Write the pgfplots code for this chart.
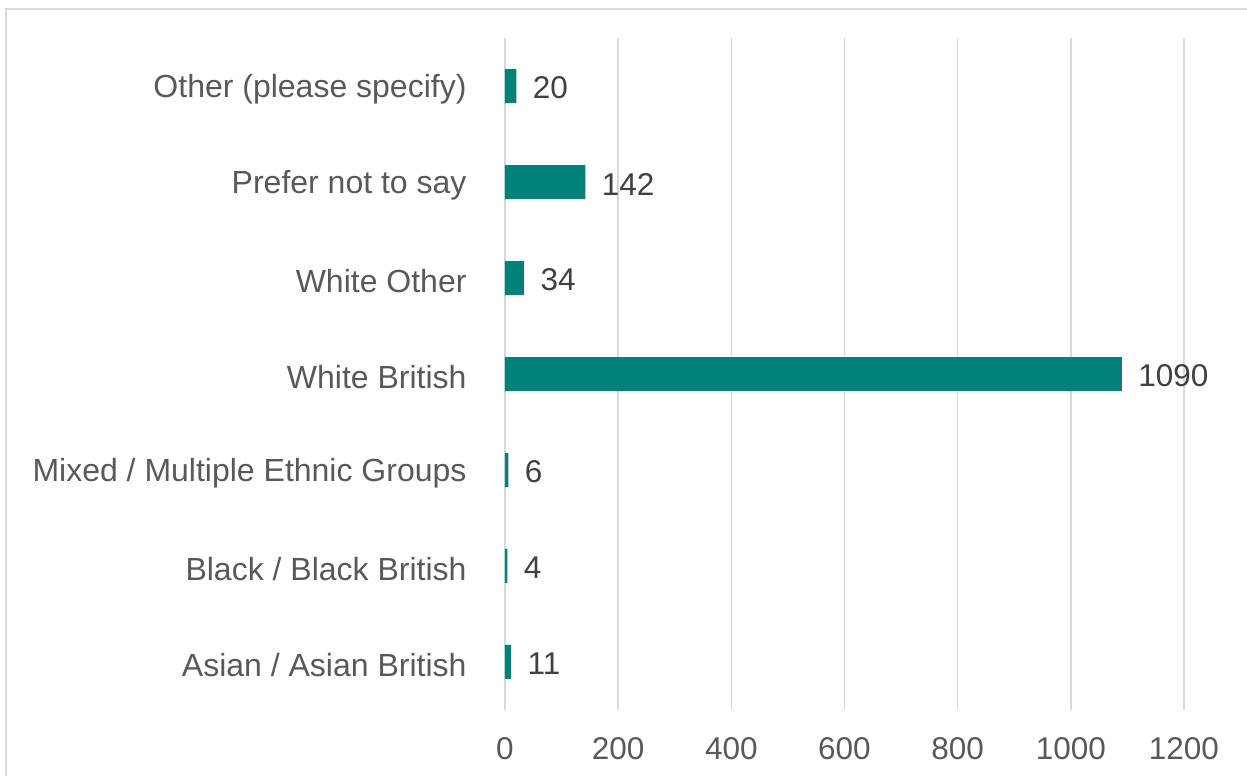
\documentclass[border=0pt]{standalone}
\usepackage{pgfplots}
\pgfplotsset{compat=1.18}
\usepackage{fontspec}
\setmainfont{Liberation Sans}
\definecolor{barc}{RGB}{0,130,122}
\definecolor{labgray}{RGB}{89,89,89}
\definecolor{datgray}{RGB}{64,64,64}
\definecolor{gridc}{RGB}{217,217,217}
\begin{document}
\begin{tikzpicture}
\clip (0,0) rectangle (498.8pt,310.4pt);
\useasboundingbox (0,0) rectangle (498.8pt,310.4pt);
\draw[color=gridc, line width=0.6pt] (2.4pt,-10pt) rectangle (520pt,306.8pt);
\begin{axis}[
  at={(202pt,26.4pt)}, anchor=south west,
  scale only axis, width=271.6pt, height=268.8pt,
  xmin=0, xmax=1200, ymin=-0.5, ymax=6.5,
  xbar, bar width=13.6pt,
  axis line style={draw=none},
  major tick length=0pt,
  xtick={0,200,...,1200},
  xmajorgrids, grid style={color=gridc, line width=0.6pt},
  ytick={0,...,6},
  yticklabels={Asian / Asian British, Black / Black British, Mixed / Multiple Ethnic Groups, White British, White Other, Prefer not to say, Other (please specify)},
  /pgf/number format/assume math mode=true,
  /pgf/number format/1000 sep={},
  tick label style={font=\fontsize{12.6pt}{15pt}\selectfont, text=labgray, inner sep=0pt},
  yticklabel style={anchor=east, xshift=-15.2pt, yshift=-1.2pt, font=\fontsize{12.8pt}{15pt}\selectfont},
  xticklabel style={anchor=north, yshift=-10.8pt},
  nodes near coords,
  nodes near coords style={font=\fontsize{12.6pt}{15pt}\selectfont, text=datgray, anchor=west, inner sep=0pt, xshift=6.4pt, yshift=-0.8pt},
  point meta=x,
]
\addplot[fill=barc, draw=none] coordinates {(11,0) (4,1) (6,2) (1090,3) (34,4) (142,5) (20,6)};
\end{axis}
\end{tikzpicture}
\end{document}
